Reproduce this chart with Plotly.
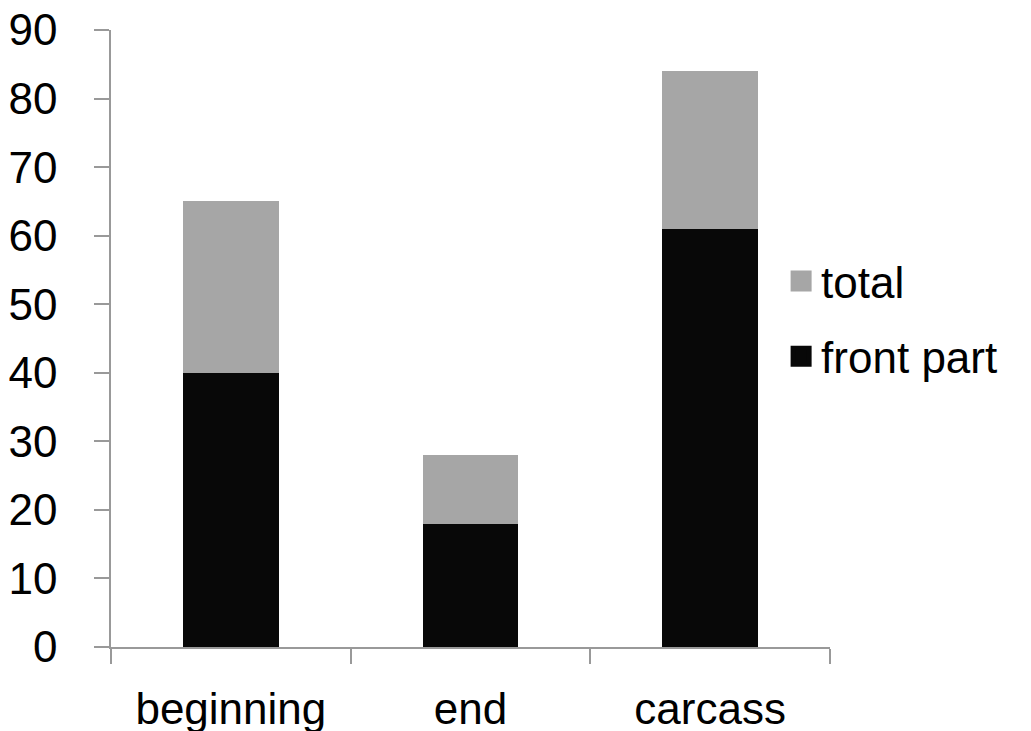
import plotly.graph_objects as go

categories = ["beginning", "end", "carcass"]
front_part = [40, 18, 61]
total_extra = [25, 10, 23]

FONT = "Liberation Sans, Arial, sans-serif"
BLACK = "#080808"
GRAY = "#A6A6A6"

fig = go.Figure()
fig.add_trace(go.Bar(x=categories, y=front_part, name="front part",
                     marker=dict(color=BLACK, line=dict(width=0)),
                     showlegend=False))
fig.add_trace(go.Bar(x=categories, y=total_extra, name="total",
                     marker=dict(color=GRAY, line=dict(width=0)),
                     showlegend=False))
# legend entries with larger square symbols
fig.add_trace(go.Scatter(x=[None], y=[None], mode="markers", name="total",
                         marker=dict(symbol="square", size=22, color=GRAY,
                                     line=dict(width=5, color=GRAY)),
                         legendgroup="a"))
fig.add_trace(go.Scatter(x=[None], y=[None], mode="markers", name="front part",
                         marker=dict(symbol="square", size=22, color=BLACK,
                                     line=dict(width=5, color=BLACK)),
                         legendgroup="b"))

fig.update_layout(
    width=1031, height=731,
    barmode="stack", bargap=0.6,
    paper_bgcolor="white", plot_bgcolor="white",
    margin=dict(l=103, r=209, t=22, b=92, autoexpand=False),
    font=dict(family=FONT, size=44, color="black"),
    showlegend=True,
    legend=dict(x=0.932, xanchor="left", y=0.5316, yanchor="middle",
                traceorder="grouped", tracegroupgap=15,
                font=dict(size=44), itemsizing="trace", itemwidth=30,
                bgcolor="rgba(0,0,0,0)"),
    xaxis=dict(showline=True, linecolor="#999999", linewidth=1.5,
               ticks="outside", tickson="boundaries", ticklen=15,
               tickcolor="#999999", tickwidth=1.5,
               showgrid=False, zeroline=False, automargin=False,
               tickfont=dict(size=44), ticklabelstandoff=22),
    yaxis=dict(range=[0, 90], dtick=10, showline=True, linecolor="#999999",
               linewidth=1.5, ticks="outside", ticklen=15, tickcolor="#999999",
               tickwidth=1.5, showgrid=False, zeroline=False, automargin=False,
               ticklabeloverflow="allow",
               tickfont=dict(size=44), ticklabelstandoff=28),
)

fig.write_html("out.html")
